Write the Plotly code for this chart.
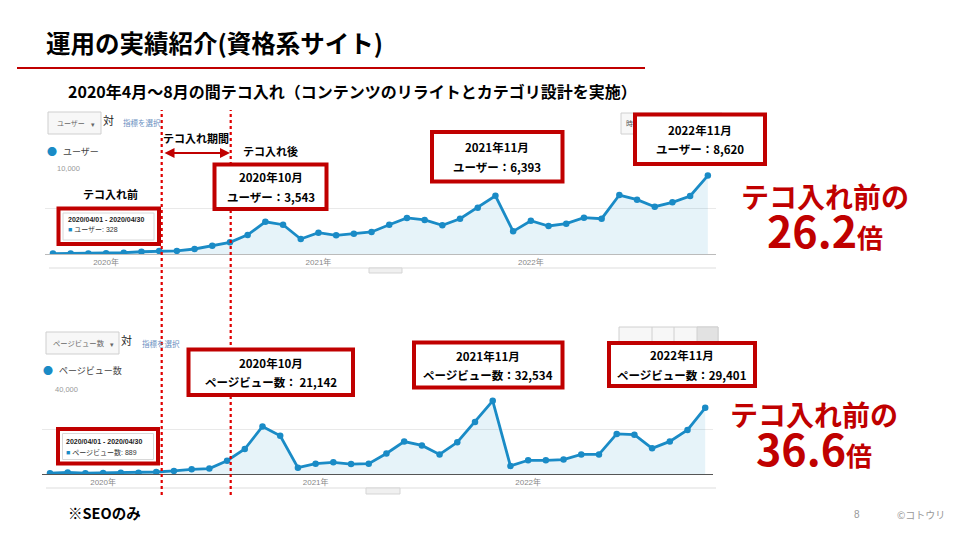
import plotly.graph_objects as go
import pandas as pd

# ---------------- data ----------------
months = [p.strftime("%Y-%m") for p in pd.period_range("2019-10", "2022-11", freq="M")]
users = [50, 55, 60, 70, 140, 250, 328, 340, 550, 910,
         1280, 2100, 3543, 3220, 1650, 2340, 2050, 2230, 2420, 3220,
         3960, 3740, 3150, 3880, 5090, 6393, 2490, 3660, 3080, 3330,
         3990, 3880, 6480, 5970, 5200, 5680, 6370, 8620]
pageviews = [350, 700, 380, 450, 520, 600, 889, 1350, 2100, 2400,
             5900, 11100, 21142, 17000, 2800, 4600, 5200, 4400, 4600, 9100,
             14400, 12700, 8700, 14100, 23100, 32534, 3600, 6100, 6100, 6400,
             8700, 8700, 17800, 17500, 11400, 14500, 19600, 29401]
year_ticks = ["2020-01", "2021-01", "2022-01"]
year_labels = ["2020年", "2021年", "2022年"]

BLUE = "#1a8bc6"
RED = "#C00000"
JP = "Noto Sans CJK JP"
LAT = "Liberation Sans, Noto Sans CJK JP"


def px(x):
    return x / 960


def py(y):
    return 1 - y / 540


fig = go.Figure()
fig.add_trace(go.Scatter(x=months, y=users, mode="lines+markers",
                         line=dict(color=BLUE, width=2.8), marker=dict(size=6.5, color=BLUE),
                         fill="tozeroy", fillcolor="rgba(5,141,199,0.10)",
                         xaxis="x", yaxis="y", showlegend=False, hoverinfo="skip"))
fig.add_trace(go.Scatter(x=months, y=pageviews, mode="lines+markers",
                         line=dict(color=BLUE, width=2.8), marker=dict(size=6.5, color=BLUE),
                         fill="tozeroy", fillcolor="rgba(5,141,199,0.10)",
                         xaxis="x2", yaxis="y2", showlegend=False, hoverinfo="skip"))

xcommon = dict(type="category", range=[-0.45, 37.45], tickvals=year_ticks, ticktext=year_labels,
               showgrid=False, showline=True, ticks="", tickfont=dict(size=8, color="#888", family=LAT),
               fixedrange=True)
ycommon = dict(showticklabels=False, gridcolor="#e9e9e9", zeroline=False, showline=False, fixedrange=True)

fig.update_layout(
    width=960, height=540, margin=dict(l=0, r=0, t=0, b=0),
    paper_bgcolor="white", plot_bgcolor="white",
    xaxis=dict(xcommon, domain=[px(45), px(715.8)], anchor="y", linecolor="#bbbbbb"),
    yaxis=dict(ycommon, domain=[py(254), py(163)], range=[0, 10000], dtick=5000, anchor="x"),
    xaxis2=dict(xcommon, domain=[px(42), px(713.2)], anchor="y2", linecolor="#555555"),
    yaxis2=dict(ycommon, domain=[py(474), py(384)], range=[0, 40000], dtick=20000, anchor="x2"),
)

shapes = []
ann = []


def rect(x0, y0, x1, y1, line="#ccc", width=1, fill="white", dash=None):
    shapes.append(dict(type="rect", xref="paper", yref="paper", x0=px(x0), x1=px(x1), y0=py(y1), y1=py(y0),
                       line=dict(color=line, width=width, dash=dash), fillcolor=fill, layer="above"))


def hline(x0, x1, y, color, width=1):
    shapes.append(dict(type="line", xref="paper", yref="paper", x0=px(x0), x1=px(x1), y0=py(y), y1=py(y),
                       line=dict(color=color, width=width), layer="above"))


def txt(x, y, s, size, color="#000", bold=False, xanchor="center", family=JP):
    ann.append(dict(x=px(x), y=py(y), xref="paper", yref="paper", text=s, showarrow=False,
                    xanchor=xanchor, yanchor="middle",
                    font=dict(size=size, color=color, family=family, weight=700 if bold else 400)))


# slide header
txt(44, 43, "運用の実績紹介(資格系サイト)", 24.5, bold=True, xanchor="left")
hline(17, 645, 68, RED, 2)
txt(66, 91, "2020年4月～8月の間テコ入れ（コンテンツのリライトとカテゴリ設計を実施）", 16, bold=True, xanchor="left")

# GA frame elements (top)
hline(49, 716, 268, "#dddddd", 1)
rect(369, 268, 402, 273, line="#d5d5d5", fill="#f0f0f0")
rect(48, 112, 101, 134, line="#cfcfcf", fill="#f7f7f7")
txt(55, 123, "ユーザー", 7, color="#666", xanchor="left")
txt(93, 124, "▾", 7, color="#666")
txt(108, 120, "対", 11, color="#222")
txt(121, 123, "指標を選択", 7.5, color="#6a8fbf", xanchor="left")
txt(52, 151, "●", 10, color=BLUE)
txt(61, 151, "ユーザー", 9, color="#444", xanchor="left")
txt(55, 169, "10,000", 7.5, color="#999", xanchor="left", family=LAT)
rect(621, 113, 722, 134, line="#d0d0d0", fill="#f7f7f7")
txt(624, 123, "時", 7, color="#555", xanchor="left")

# GA frame elements (bottom)
hline(46, 716, 488, "#dddddd", 1)
rect(366, 488, 400, 494, line="#d5d5d5", fill="#f0f0f0")
rect(46, 332, 119, 354, line="#cfcfcf", fill="#f7f7f7")
txt(51, 343, "ページビュー数", 7.3, color="#666", xanchor="left")
txt(112, 344, "▾", 7, color="#666")
txt(126, 340, "対", 11, color="#222")
txt(140, 343, "指標を選択", 7.5, color="#6a8fbf", xanchor="left")
txt(48, 370, "●", 10, color=BLUE)
txt(57, 370, "ページビュー数", 9, color="#444", xanchor="left")
txt(53, 389, "40,000", 7.5, color="#999", xanchor="left", family=LAT)
rect(619, 327, 718, 346, line="#d0d0d0", fill="#f7f7f7")
rect(697, 327, 718, 346, line="#d0d0d0", fill="#e2e2e2")
for xs in (652, 674):
    shapes.append(dict(type="line", xref="paper", yref="paper", x0=px(xs), x1=px(xs), y0=py(346), y1=py(327),
                       line=dict(color="#d0d0d0", width=1), layer="above"))

# red dotted period lines
for xv in (161.7, 230.7):
    shapes.append(dict(type="line", xref="paper", yref="paper", x0=px(xv), x1=px(xv), y0=py(495), y1=py(110),
                       line=dict(color="#e00000", width=2.2, dash="dot"), layer="above"))

# period arrow + labels
ann.append(dict(x=px(230), y=py(153), ax=-67, ay=0, xref="paper", yref="paper",
                axref="pixel", ayref="pixel", text="", showarrow=True, arrowhead=2, arrowside="end+start",
                arrowsize=1, arrowwidth=2, arrowcolor=RED))
txt(196, 138, "テコ入れ期間", 11, bold=True)
txt(270, 151, "テコ入れ後", 11, bold=True)
txt(110, 194, "テコ入れ前", 11, bold=True)

# tooltip boxes
rect(58.5, 208.5, 159, 244, line=RED, width=4)
rect(63, 213, 154, 240, line="#d8d8d8", width=1)
txt(66, 219.5, "2020/04/01 - 2020/04/30", 7, color="#222", bold=True, xanchor="left", family=LAT)
txt(66, 230, "<span style='color:%s'>■</span> ユーザー: 328" % BLUE, 7, color="#333", xanchor="left", family=LAT)

rect(58, 429, 158, 463.5, line=RED, width=4)
rect(62.5, 433.5, 153.5, 459.5, line="#d8d8d8", width=1)
txt(63.5, 441.5, "2020/04/01 - 2020/04/30", 7, color="#222", bold=True, xanchor="left", family=LAT)
txt(63.5, 452, "<span style='color:%s'>■</span> ページビュー数: 889" % BLUE, 7, color="#333", xanchor="left", family=LAT)

# callout boxes (top)
callouts_top = [
    (214.5, 164.5, 326.5, 209, "2020年10月", "ユーザー：3,543"),
    (432, 132, 562.5, 181.5, "2021年11月", "ユーザー：6,393"),
    (635, 114.5, 765, 164, "2022年11月", "ユーザー：8,620"),
]
for x0, y0, x1, y1, l1, l2 in callouts_top:
    rect(x0, y0, x1, y1, line=RED, width=4)
    cx = (x0 + x1) / 2
    cy = (y0 + y1) / 2
    txt(cx, cy - 9.5, l1, 11.5, bold=True)
    txt(cx, cy + 10, l2, 11.5, bold=True)

callouts_bot = [
    (188.5, 349.5, 353, 395, "2020年10月", "ページビュー数： 21,142"),
    (414, 342.5, 562.5, 387.5, "2021年11月", "ページビュー数：32,534"),
    (609, 343, 755, 386, "2022年11月", "ページビュー数：29,401"),
]
for x0, y0, x1, y1, l1, l2 in callouts_bot:
    rect(x0, y0, x1, y1, line=RED, width=4)
    cx = (x0 + x1) / 2
    cy = (y0 + y1) / 2
    txt(cx, cy - 9.5, l1, 11.5, bold=True)
    txt(cx, cy + 10, l2, 11.5, bold=True)

# big red multipliers (two lines in one text)
big = "<span style='font-size:28px'>テコ入れ前の</span><br><span style='font-size:43px'>%s</span><span style='font-size:26px'>倍</span>"
txt(825, 218, big % "26.2", 31, color=RED, bold=True)
txt(814, 436, big % "36.6", 31, color=RED, bold=True)

# footer
txt(66, 512, "※SEOのみ", 14.5, bold=True, xanchor="left")
txt(857, 514, "8", 10, color="#999", family=LAT)
txt(895, 514, "©コトウリ", 10, color="#999", xanchor="left")

fig.update_layout(shapes=shapes, annotations=ann)
fig.write_html("out.html", config={"displayModeBar": False},
               post_script="document.body.style.margin='0';document.body.style.overflow='hidden';")
